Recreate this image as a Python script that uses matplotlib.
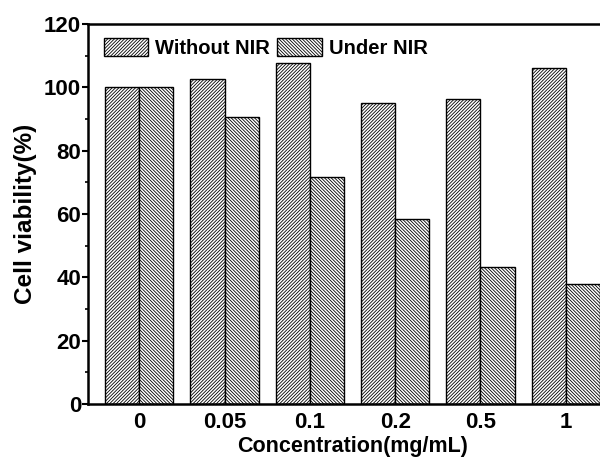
import numpy as np
import matplotlib.pyplot as plt
from matplotlib.ticker import MultipleLocator

plt.rcParams['font.family'] = ['Liberation Sans', 'DejaVu Sans']
plt.rcParams['font.weight'] = 'bold'
plt.rcParams['hatch.linewidth'] = 0.6

concentrations = ["0", "0.05", "0.1", "0.2", "0.5", "1"]
without_nir = [100, 102.5, 107.6, 94.9, 96.2, 106.0]
under_nir = [100, 90.7, 71.8, 58.5, 43.4, 37.9]

x = np.arange(len(concentrations))
w = 0.4

fig = plt.figure(figsize=(6, 4.58), dpi=100)
# axes runs a little past the right edge of the canvas
ax = fig.add_axes([88/600, 1 - 404/458, 529/600, 380/458])

ax.bar(x - w/2, without_nir, w, color='white', edgecolor='black', linewidth=1,
       hatch='/' * 10, label='Without NIR')
ax.bar(x + w/2, under_nir, w, color='white', edgecolor='black', linewidth=1,
       hatch='\\' * 10, label='Under NIR')

ax.set_xlim(-0.6, 5.6)
ax.set_ylim(0, 120)
ax.set_xticks(x)
ax.set_xticklabels(concentrations)
ax.yaxis.set_major_locator(MultipleLocator(20))
ax.yaxis.set_minor_locator(MultipleLocator(10))
ax.tick_params(axis='y', which='major', direction='out', length=4, width=1.5,
               labelsize=16, pad=1)
ax.tick_params(axis='y', which='minor', direction='out', length=2.5, width=1.2)
ax.tick_params(axis='x', length=0, labelsize=16, pad=6)

for s in ['left', 'bottom', 'top']:
    ax.spines[s].set_linewidth(1.8)
ax.spines['right'].set_visible(False)

ax.set_xlabel('Concentration(mg/mL)', fontsize=15.5, fontweight='bold', labelpad=2)
ax.set_ylabel('Cell viability(%)', fontsize=17.5, fontweight='bold', labelpad=5)

ax.legend(loc='upper left', ncol=2, frameon=False, fontsize=14.5,
          handlelength=2.2, handleheight=1.05, columnspacing=0.35, handletextpad=0.35,
          borderaxespad=0.0, bbox_to_anchor=(0.015, 0.985))

fig.savefig('out.png', dpi=100)
